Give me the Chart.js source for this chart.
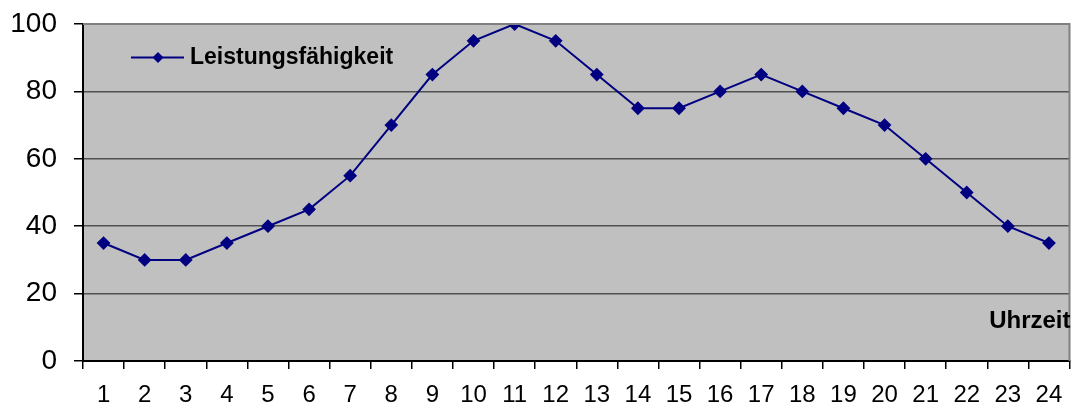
<!DOCTYPE html>
<html>
<head>
<meta charset="utf-8">
<script src="https://cdn.jsdelivr.net/npm/chart.js@4/dist/chart.umd.min.js"></script>
<style>
    html, body { margin: 0; padding: 0; background: #fff; }
    #wrap { width: 1077px; height: 405px; }
</style>
</head>
<body>
<div id="wrap"><canvas id="chart" width="1077" height="405"></canvas></div>
<script>
// Daten
const hours = ["1", "2", "3", "4", "5", "6", "7", "8", "9", "10", "11", "12",
    "13", "14", "15", "16", "17", "18", "19", "20", "21", "22", "23", "24"];
const performance = [35, 30, 30, 35, 40, 45, 55, 70, 85, 95, 100, 95,
    85, 75, 75, 80, 85, 80, 75, 70, 60, 50, 40, 35];
const seriesLabel = "Leistungsfähigkeit";
const xAxisTitle = "Uhrzeit";

const navy = "#000080";
const fontFamily = "'Liberation Sans', Arial, sans-serif";

// Hintergrund und Rahmen der Zeichenfläche
const plotBackground = {
    id: "plotBackground",
    beforeDraw(chart) {
        const { ctx, chartArea: a } = chart;
        ctx.save();
        ctx.fillStyle = "#C0C0C0";
        ctx.fillRect(a.left, a.top, a.right - a.left, a.bottom - a.top);
        ctx.restore();
    },
    afterDraw(chart) {
        const { ctx, chartArea: a } = chart;
        ctx.save();
        ctx.strokeStyle = "#808080";
        ctx.lineWidth = 2;
        ctx.beginPath();
        ctx.moveTo(a.left, a.top);
        ctx.lineTo(a.right, a.top);
        ctx.lineTo(a.right, a.bottom);
        ctx.stroke();

        // Legende innerhalb der Fläche
        const ly = 57.5;
        ctx.strokeStyle = navy;
        ctx.lineWidth = 2;
        ctx.beginPath();
        ctx.moveTo(131, ly);
        ctx.lineTo(184, ly);
        ctx.stroke();
        ctx.fillStyle = navy;
        ctx.beginPath();
        ctx.moveTo(158, ly - 5.5);
        ctx.lineTo(163.5, ly);
        ctx.lineTo(158, ly + 5.5);
        ctx.lineTo(152.5, ly);
        ctx.closePath();
        ctx.fill();
        ctx.fillStyle = "#000";
        ctx.font = "bold 23px " + fontFamily;
        ctx.textBaseline = "middle";
        ctx.textAlign = "left";
        ctx.fillText(seriesLabel, 190, ly);

        // Achsentitel
        ctx.font = "bold 24px " + fontFamily;
        ctx.textAlign = "right";
        ctx.fillText(xAxisTitle, a.right + 1, 321);
        ctx.restore();
    }
};

new Chart(document.getElementById("chart"), {
    type: "line",
    data: {
        labels: hours,
        datasets: [{
            label: seriesLabel,
            data: performance,
            borderColor: navy,
            backgroundColor: navy,
            borderWidth: 2,
            pointStyle: "rectRot",
            pointRadius: 5.5,
            pointHoverRadius: 5.5,
            tension: 0
        }]
    },
    options: {
        responsive: false,
        animation: false,
        layout: { padding: { top: 24, right: 2, left: 0, bottom: 0 } },
        plugins: {
            legend: { display: false },
            tooltip: { enabled: false }
        },
        scales: {
            x: {
                offset: true,
                grid: {
                    offset: true,
                    drawOnChartArea: false,
                    color: "#000",
                    tickLength: 8,
                    lineWidth: 1.5
                },
                border: { color: "#000", width: 2 },
                ticks: {
                    color: "#000",
                    font: { family: fontFamily, size: 24 },
                    padding: 12,
                    maxRotation: 0,
                    autoSkip: false
                },
                afterFit(scale) {
                    scale.height = 44;
                    scale.paddingLeft = 0;
                    scale.paddingRight = 0;
                }
            },
            y: {
                min: 0,
                max: 100,
                ticks: {
                    stepSize: 20,
                    color: "#000",
                    font: { family: fontFamily, size: 28 },
                    padding: 17
                },
                grid: {
                    color: ctx => ctx.tick && (ctx.tick.value === 0 || ctx.tick.value === 100) ? "rgba(0,0,0,0)" : "#505050",
                    tickColor: "#000",
                    tickLength: 9,
                    lineWidth: 1.5
                },
                border: { color: "#000", width: 2 },
                afterFit(scale) {
                    scale.width = 83;
                    scale.paddingTop = 0;
                    scale.paddingBottom = 0;
                }
            }
        }
    },
    plugins: [plotBackground]
});
</script>
</body>
</html>
